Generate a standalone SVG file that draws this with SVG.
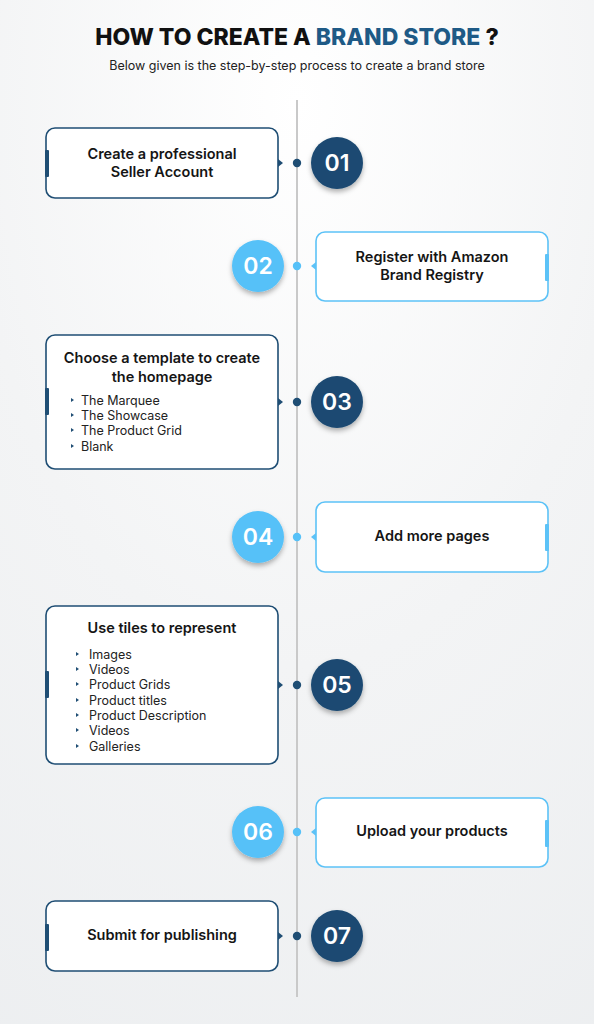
<svg xmlns="http://www.w3.org/2000/svg" width="594" height="1024" viewBox="0 0 594 1024">
<defs>
<radialGradient id="bg" cx="0.5" cy="0.1" r="1.1">
<stop offset="0" stop-color="#ffffff"/>
<stop offset="0.5" stop-color="#f3f4f5"/>
<stop offset="1" stop-color="#eceef0"/>
</radialGradient>
<filter id="sh" x="-40%" y="-40%" width="180%" height="190%">
<feDropShadow dx="0" dy="3" stdDeviation="2.5" flood-color="#000" flood-opacity="0.3"/>
</filter>
<style>
.boxd{fill:#fff;stroke:#1f4e74;stroke-width:1.6}
.boxl{fill:#fff;stroke:#5cc2f7;stroke-width:1.6}
.tabd{fill:#1f4e74}
.tabl{fill:#5cc2f7}
.cd{fill:#1b4a72}
.cl{fill:#56c1f8}
.num{font-family:"Inter","Liberation Sans",sans-serif;font-size:23px;font-weight:600;fill:#fff;text-anchor:middle}
.h{font-family:"Inter","Liberation Sans",sans-serif;font-size:14.5px;font-weight:600;fill:#151515;text-anchor:middle}
.li{font-family:"Inter","Liberation Sans",sans-serif;font-size:12.5px;fill:#222}
.bd{fill:#1f4e74}
</style>
</defs>
<rect width="594" height="1024" fill="url(#bg)"/>
<text x="297" y="45" text-anchor="middle" font-family="Inter,'Liberation Sans',sans-serif" font-size="23" font-weight="800" fill="#111">HOW TO CREATE A <tspan fill="#1e5a86">BRAND STORE</tspan> ?</text>
<text x="297" y="70" text-anchor="middle" font-family="Inter,'Liberation Sans',sans-serif" font-size="12.5" fill="#222">Below given is the step-by-step process to create a brand store</text>
<g id="connectors">
<line x1="297" y1="100" x2="297" y2="997" stroke="#c9c9c9" stroke-width="2"/>
<circle cx="297" cy="163" r="4.2" fill="#1f4e74"/>
<circle cx="297" cy="266" r="4.2" fill="#56c1f8"/>
<circle cx="297" cy="402" r="4.2" fill="#1f4e74"/>
<circle cx="297" cy="537" r="4.2" fill="#56c1f8"/>
<circle cx="297" cy="685" r="4.2" fill="#1f4e74"/>
<circle cx="297" cy="832" r="4.2" fill="#56c1f8"/>
<circle cx="297" cy="936" r="4.2" fill="#1f4e74"/>
</g>
<g id="step1">
<rect class="boxd" x="46" y="128" width="232" height="70" rx="9"/>
<rect class="tabd" x="45" y="150" width="4" height="27" rx="1"/>
<path class="tabd" d="M278,159 L283,163 L278,167 Z"/>
<circle class="cd" cx="337" cy="163" r="26" filter="url(#sh)"/>
<text class="num" x="337" y="171">01</text>
<text class="h" x="162" y="159">Create a professional</text>
<text class="h" x="162" y="177">Seller Account</text>
</g>
<g id="step2">
<rect class="boxl" x="316" y="232" width="232" height="69" rx="9"/>
<rect class="tabl" x="545" y="254" width="4" height="27" rx="1"/>
<path class="tabl" d="M316,262 L311,266 L316,270 Z"/>
<circle class="cl" cx="258" cy="266" r="26" filter="url(#sh)"/>
<text class="num" x="258" y="274">02</text>
<text class="h" x="432" y="262">Register with Amazon</text>
<text class="h" x="432" y="280">Brand Registry</text>
</g>
<g id="step3">
<rect class="boxd" x="46" y="335" width="232" height="134" rx="9"/>
<rect class="tabd" x="45" y="388" width="4" height="27" rx="1"/>
<path class="tabd" d="M278,398 L283,402 L278,406 Z"/>
<circle class="cd" cx="337" cy="402" r="26" filter="url(#sh)"/>
<text class="num" x="337" y="410">03</text>
<text class="h" x="162" y="363">Choose a template to create</text>
<text class="h" x="162" y="382">the homepage</text>
<path class="bd" d="M71,398 L74,400 L71,402 Z"/>
<path class="bd" d="M71,413 L74,415 L71,417 Z"/>
<path class="bd" d="M71,428 L74,430 L71,432 Z"/>
<path class="bd" d="M71,444 L74,446 L71,448 Z"/>
<text class="li" x="81" y="405">The Marquee</text>
<text class="li" x="81" y="420">The Showcase</text>
<text class="li" x="81" y="435">The Product Grid</text>
<text class="li" x="81" y="451">Blank</text>
</g>
<g id="step4">
<rect class="boxl" x="316" y="502" width="232" height="70" rx="9"/>
<rect class="tabl" x="545" y="524" width="4" height="27" rx="1"/>
<path class="tabl" d="M316,533 L311,537 L316,541 Z"/>
<circle class="cl" cx="258" cy="537" r="26" filter="url(#sh)"/>
<text class="num" x="258" y="545">04</text>
<text class="h" x="432" y="541">Add more pages</text>
</g>
<g id="step5">
<rect class="boxd" x="46" y="606" width="232" height="158" rx="9"/>
<rect class="tabd" x="45" y="671" width="4" height="27" rx="1"/>
<path class="tabd" d="M278,681 L283,685 L278,689 Z"/>
<circle class="cd" cx="337" cy="685" r="26" filter="url(#sh)"/>
<text class="num" x="337" y="693">05</text>
<text class="h" x="162" y="633">Use tiles to represent</text>
<path class="bd" d="M76,652 L79,654 L76,656 Z"/>
<path class="bd" d="M76,667 L79,669 L76,671 Z"/>
<path class="bd" d="M76,682 L79,684 L76,686 Z"/>
<path class="bd" d="M76,698 L79,700 L76,702 Z"/>
<path class="bd" d="M76,713 L79,715 L76,717 Z"/>
<path class="bd" d="M76,728 L79,730 L76,732 Z"/>
<path class="bd" d="M76,744 L79,746 L76,748 Z"/>
<text class="li" x="89" y="659">Images</text>
<text class="li" x="89" y="674">Videos</text>
<text class="li" x="89" y="689">Product Grids</text>
<text class="li" x="89" y="705">Product titles</text>
<text class="li" x="89" y="720">Product Description</text>
<text class="li" x="89" y="735">Videos</text>
<text class="li" x="89" y="751">Galleries</text>
</g>
<g id="step6">
<rect class="boxl" x="316" y="798" width="232" height="69" rx="9"/>
<rect class="tabl" x="545" y="820" width="4" height="27" rx="1"/>
<path class="tabl" d="M316,828 L311,832 L316,836 Z"/>
<circle class="cl" cx="258" cy="832" r="26" filter="url(#sh)"/>
<text class="num" x="258" y="840">06</text>
<text class="h" x="432" y="836">Upload your products</text>
</g>
<g id="step7">
<rect class="boxd" x="46" y="901" width="232" height="70" rx="9"/>
<rect class="tabd" x="45" y="924" width="4" height="27" rx="1"/>
<path class="tabd" d="M278,932 L283,936 L278,940 Z"/>
<circle class="cd" cx="337" cy="936" r="26" filter="url(#sh)"/>
<text class="num" x="337" y="944">07</text>
<text class="h" x="162" y="940">Submit for publishing</text>
</g>
</svg>
